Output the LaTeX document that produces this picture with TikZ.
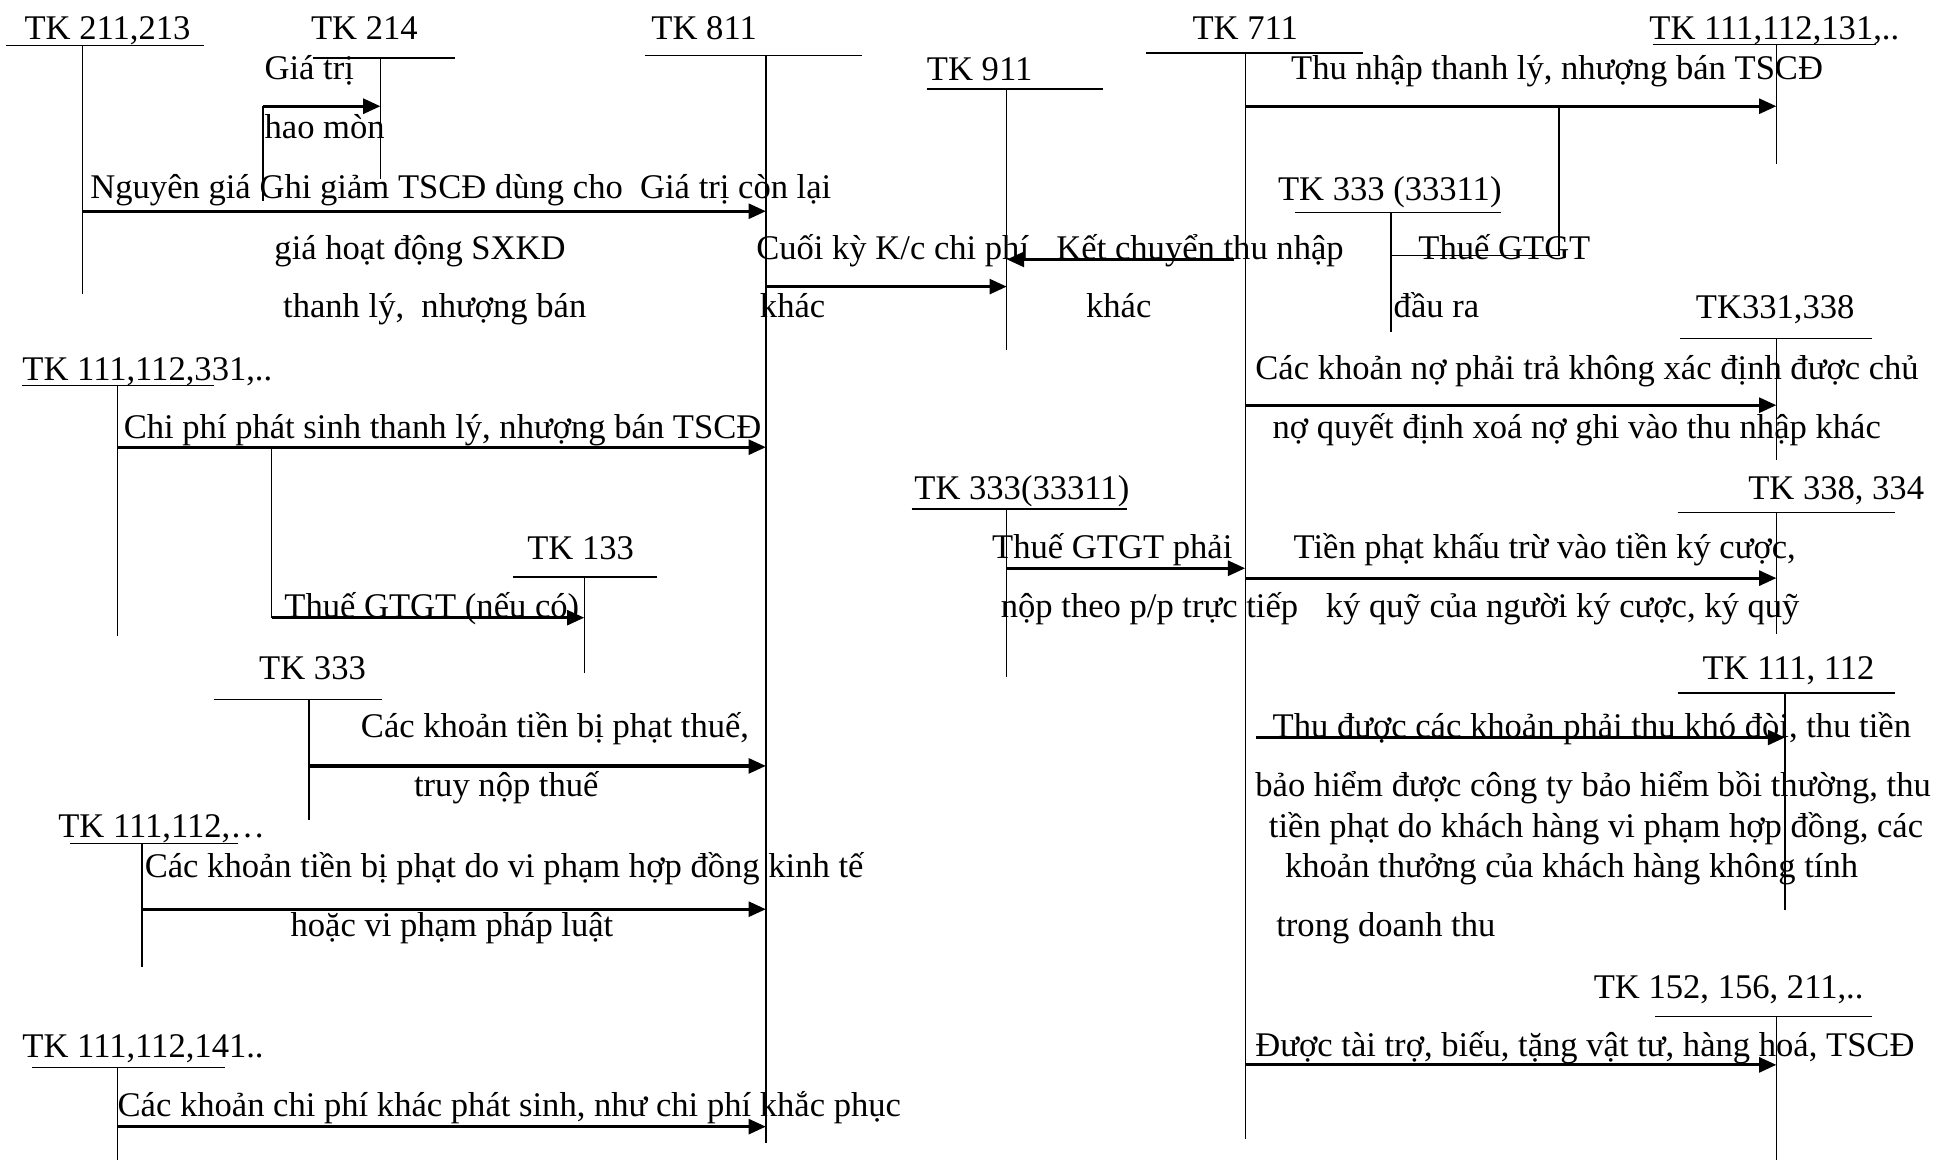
\documentclass[tikz,border=0pt]{standalone}
\usepackage{fontspec}
\setmainfont{Liberation Serif}
\usetikzlibrary{arrows.meta}

\tikzset{
  acct/.style={line width=1.1pt},
  flow/.style={line width=2.6pt, -{Triangle[length=14pt,width=12pt]}},
  lbl/.style={inner sep=0pt, anchor=base west, font=\fontsize{28}{32}\selectfont},
  clbl/.style={lbl, anchor=base},
}

% T-account: name, bar left, bar right, bar y, stem x, stem bottom
\newcommand\tacct[6]{%
  \coordinate (#1-l) at (#2,#4);
  \coordinate (#1-r) at (#3,#4);
  \coordinate (#1-t) at (#5,#4);
  \coordinate (#1-b) at (#5,#6);
  \draw[acct] (#1-l) -- (#1-r);
  \draw[acct] (#1-t) -- (#1-b);
}
% posting arrow: name, start x, end x, y
\newcommand\post[4]{%
  \coordinate (#1-s) at (#2,#4);
  \coordinate (#1-e) at (#3,#4);
  \draw[flow] (#1-s) -- (#1-e);
}

\begin{document}
\begin{tikzpicture}[x=1pt,y=-1pt]
\useasboundingbox (0,0) rectangle (1568,939);
\fill[white] (0,0) rectangle (1568,939);

% ---- accounts ----
\node[clbl] (n211) at (87,32) {TK 211,213};
\tacct{a211}{5}{165}{37}{67}{238}
\node[clbl] (n214) at (295,32) {TK 214};
\tacct{a214}{253}{368}{47}{308}{145}
\node[clbl] (n811) at (570,32) {TK 811};
\tacct{a811}{522}{698}{45}{620}{925}
\node[clbl] (n911) at (793,65) {TK 911};
\tacct{a911}{750}{893}{72}{815}{283}
\node[clbl] (n711) at (1008,32) {TK 711};
\tacct{a711}{928}{1103}{43}{1008}{922}
\node[lbl] (n131) at (1335,32) {TK 111,112,131,..};
\tacct{a131}{1338}{1519}{36}{1438}{133}
\node[clbl] (n3331a) at (1125,162) {TK 333 (33311)};
\tacct{a3331a}{1048}{1215}{172}{1126}{269}
\node[clbl] (n331) at (1437,258) {TK331,338};
\tacct{a331}{1360}{1515}{274}{1438}{372}
\node[lbl] (n1121) at (18,308) {TK 111,112,331,..};
\tacct{a1121}{18}{173}{312}{95}{515}
\node[clbl] (n133) at (470,453) {TK 133};
\tacct{a133}{415}{532}{467}{473}{545}
\node[clbl] (n333) at (253,550) {TK 333};
\tacct{a333}{173}{309}{566}{250}{664}
\node[lbl] (n1122) at (47,678) {TK 111,112,…};
\tacct{a1122}{57}{193}{683}{115}{783}
\node[lbl] (n141) at (18,856) {TK 111,112,141..};
\tacct{a141}{26}{182}{864}{95}{939}
\node[lbl] (n3331b) at (740,404) {TK 333(33311)};
\tacct{a3331b}{738}{912}{412}{815}{548}
\node[lbl] (n338) at (1415,404) {TK 338, 334};
\tacct{a338}{1358}{1534}{415}{1438}{513}
\node[lbl] (n112) at (1378,550) {TK 111, 112};
\tacct{a112}{1358}{1534}{561}{1445}{737}
\node[lbl] (n152) at (1290,808) {TK 152, 156, 211,..};
\tacct{a152}{1340}{1515}{823}{1438}{939}

% ---- postings to TK 811 side ----
\coordinate (hm-b) at (213,163);
\post{hm}{213}{308}{86}
\draw[acct] (hm-s) -- (hm-b);
\node[lbl] at (214,64) {Giá trị};
\node[lbl] at (214,112) {hao mòn};

\post{ng}{67}{620}{171}
\node[lbl] at (73,161) {Nguyên giá};
\node[lbl] at (210,161) {Ghi giảm TSCĐ dùng cho};
\node[lbl] at (518,161) {Giá trị còn lại};
\node[lbl] at (222,210) {giá hoạt động SXKD};
\node[lbl] at (229,257) {thanh lý,\ \ nhượng bán};

\post{kc1}{620}{815}{232}
\node[lbl] at (612,210) {Cuối kỳ K/c chi phí};
\node[lbl] at (615,257) {khác};

\post{kc2}{999}{815}{210}
\node[lbl] at (855,210) {Kết chuyển thu nhập};
\node[lbl] at (879,257) {khác};

\post{cp}{95}{620}{362}
\node[lbl] at (100,355) {Chi phí phát sinh thanh lý, nhượng bán TSCĐ};
\coordinate (vat-t) at (220,362);
\post{vat}{220}{473}{500}
\draw[acct] (vat-t) -- (vat-s);
\node[lbl] at (230,500) {Thuế GTGT (nếu có)};

\post{pt}{250}{620}{620}
\node[lbl] at (292,597) {Các khoản tiền bị phạt thuế,};
\node[lbl] at (335,645) {truy nộp thuế};

\post{hd}{115}{620}{736}
\node[lbl] at (117,710) {Các khoản tiền bị phạt do vi phạm hợp đồng kinh tế};
\node[lbl] at (235,758) {hoặc vi phạm pháp luật};

\post{kk}{95}{620}{912}
\node[lbl] at (95,904) {Các khoản chi phí khác phát sinh, như chi phí khắc phục};

% ---- postings from TK 711 side ----
\post{tn}{1008}{1438}{86}
\node[lbl] at (1045,64) {Thu nhập thanh lý, nhượng bán TSCĐ};
\coordinate (gt-t) at (1262,86);
\coordinate (gt-c) at (1262,207);
\draw[acct] (gt-t) -- (gt-c) -- (a3331a-t |- gt-c);
\node[lbl] at (1148,210) {Thuế GTGT};
\node[lbl] at (1128,257) {đầu ra};

\post{no}{1008}{1438}{328}
\node[lbl] at (1016,307) {Các khoản nợ phải trả không xác định được chủ};
\node[lbl] at (1030,355) {nợ quyết định xoá nợ ghi vào thu nhập khác};

\post{tt}{815}{1008}{460}
\node[lbl] at (803,452) {Thuế GTGT phải};
\node[lbl] at (810,500) {nộp theo p/p trực tiếp};

\post{kq}{1008}{1438}{468}
\node[lbl] at (1047,452) {Tiền phạt khấu trừ vào tiền ký cược,};
\node[lbl] at (1073,500) {ký quỹ của người ký cược, ký quỹ};

\post{kd}{1017}{1445}{597}
\node[lbl] at (1030,597) {Thu được các khoản phải thu khó đòi, thu tiền};
\node[lbl] at (1016,645) {bảo hiểm được công ty bảo hiểm bồi thường, thu};
\node[lbl] at (1027,678) {tiền phạt do khách hàng vi phạm hợp đồng, các};
\node[lbl] at (1040,710) {khoản thưởng của khách hàng không tính};
\node[lbl] at (1033,758) {trong doanh thu};

\post{tr}{1008}{1438}{862}
\node[lbl] at (1016,855) {Được tài trợ, biếu, tặng vật tư, hàng hoá, TSCĐ};
\end{tikzpicture}
\end{document}
